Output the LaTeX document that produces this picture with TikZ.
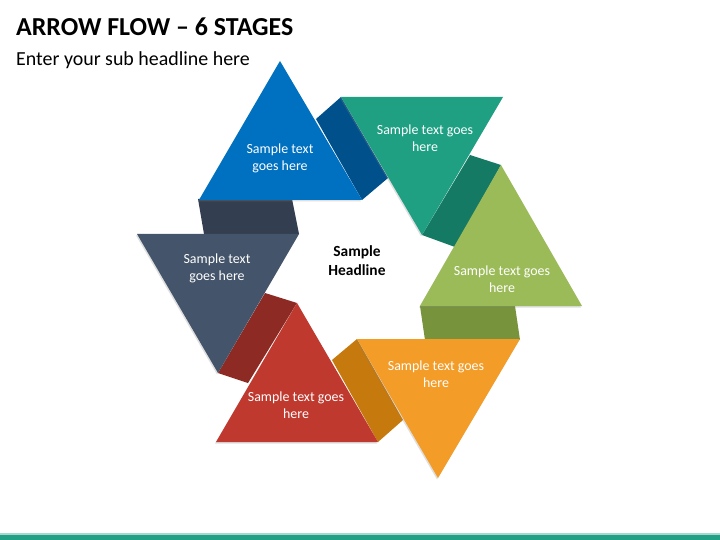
\documentclass[tikz,border=0pt]{standalone}
\usepackage{fontspec}
\setmainfont{Carlito}
\usetikzlibrary{shadows}
\definecolor{cblue}{HTML}{0070C0}
\definecolor{cblued}{HTML}{00508C}
\definecolor{cteal}{HTML}{1FA083}
\definecolor{cteald}{HTML}{157A63}
\definecolor{cgreen}{HTML}{9BBB59}
\definecolor{cgreend}{HTML}{77933C}
\definecolor{corange}{HTML}{F39C28}
\definecolor{coranged}{HTML}{C6790C}
\definecolor{cred}{HTML}{C0392F}
\definecolor{credd}{HTML}{8E2A24}
\definecolor{cslate}{HTML}{44546A}
\definecolor{cslated}{HTML}{333F50}
\definecolor{cbar}{HTML}{21A085}
\tikzset{
  tri/.style={drop shadow={opacity=0.25,shadow xshift=-1bp,shadow yshift=-1.5bp}},
  lbl/.style={text=white,font=\fontsize{14}{17}\selectfont,align=center,inner sep=0pt},
  ttl/.style={anchor=base west,inner sep=0pt,font=\fontsize{26}{30}\selectfont\bfseries},
  sub/.style={anchor=base west,inner sep=0pt,font=\fontsize{20}{24}\selectfont},
  hdl/.style={font=\fontsize{15.5}{19}\selectfont\bfseries,align=center,inner sep=0pt}
}
\begin{document}
\begin{tikzpicture}[x=1bp,y=-1bp]
\useasboundingbox (0,0) rectangle (720,540);
\fill[white] (0,0) rectangle (720,540);
% bottom bar
\fill[cbar!40] (0,533) rectangle (720,534.5);
\fill[cbar] (0,534.5) rectangle (720,540);
% titles
\node[ttl] (title) at (16,36) {ARROW FLOW – 6 STAGES};
\node[sub] (subtitle) at (16,66) {Enter your sub headline here};
% connecting bands
\fill[cblued] (316,119) -- (341,97) -- (388,178) -- (362,200) -- cycle;
\fill[cteald] (470,155) -- (501,165) -- (455,247) -- (422,235) -- cycle;
\fill[cgreend] (420,306) -- (515,306) -- (520,340) -- (425,340) -- cycle;
\fill[coranged] (332,360) -- (357,339) -- (403,420) -- (378,442) -- cycle;
\fill[credd] (265,293) -- (297,303) -- (248,383) -- (218,373) -- cycle;
\fill[cslated] (198,199) -- (292,199) -- (299,234) -- (204,234) -- cycle;
% triangles
\fill[cblue,tri] (280,61) -- (362,200) -- (199,200) -- cycle;
\fill[cteal,tri] (341,97) -- (503,97) -- (422,235) -- cycle;
\fill[cgreen,tri] (501,165) -- (582,306) -- (420,306) -- cycle;
\fill[corange,tri] (357,339) -- (520,339) -- (438,478) -- cycle;
\fill[cred,tri] (297,303) -- (378,442) -- (216,442) -- cycle;
\fill[cslate,tri] (137,234) -- (299,234) -- (218,373) -- cycle;
% labels
\node[lbl] (tblue) at (280,158) {Sample text\\goes here};
\node[lbl] (tteal) at (425,138) {Sample text goes\\here};
\node[lbl] (tgreen) at (502,279) {Sample text goes\\here};
\node[lbl] (torange) at (436,374) {Sample text goes\\here};
\node[lbl] (tred) at (296,405) {Sample text goes\\here};
\node[lbl] (tslate) at (217,268) {Sample text\\goes here};
\node[hdl] (center) at (357,261) {Sample\\Headline};
\end{tikzpicture}
\end{document}
